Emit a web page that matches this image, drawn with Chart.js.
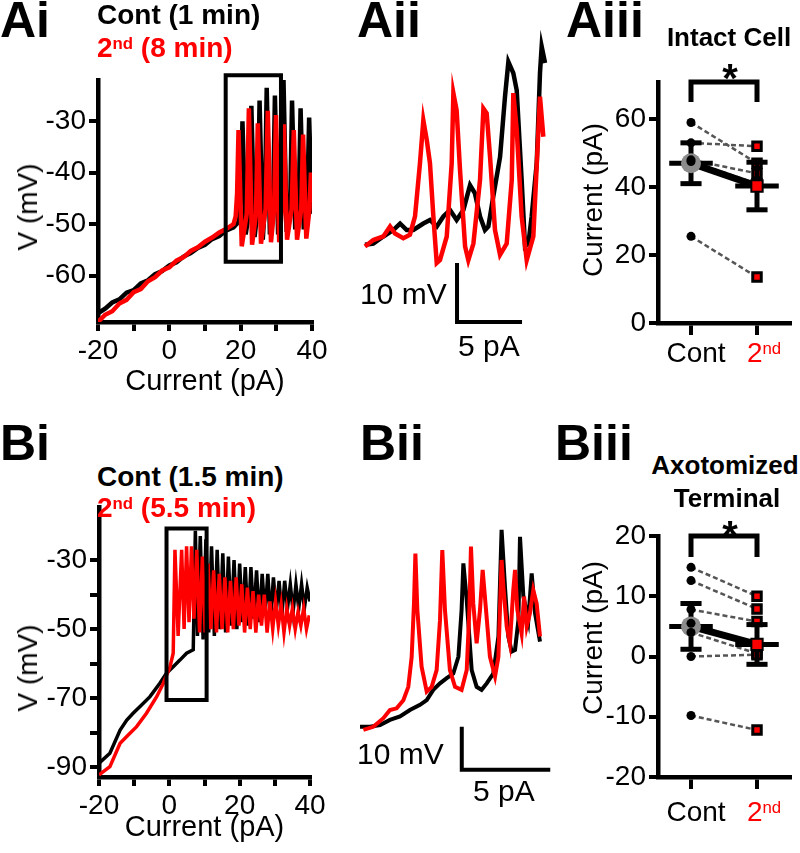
<!DOCTYPE html>
<html>
<head>
<meta charset="utf-8">
<script src="https://cdn.jsdelivr.net/npm/chart.js@4.4.1/dist/chart.umd.min.js"></script>
<style>
body { margin: 0; background: #fff; }
#fig { position: relative; width: 800px; height: 853px; overflow: hidden; font-family: "Liberation Sans", Arial, sans-serif; }
#fig canvas { position: absolute; }
.t { position: absolute; line-height: 1; white-space: nowrap; z-index: 2; color: #000; }
.lab { font-size: 50px; font-weight: bold; }
.leg { font-size: 28px; font-weight: bold; }
.ttl { font-size: 26px; font-weight: bold; transform: translateX(-50%); }
.star { font-size: 40px; font-weight: bold; transform: translateX(-50%); }
.yt { font-size: 28px; transform: translate(-50%, -50%) rotate(-90deg); }
.sb { font-size: 30px; }
.cat { font-size: 28px; transform: translateX(-50%); }
.red { color: #f00; }
sup { font-size: 0.6em; vertical-align: baseline; position: relative; top: -0.5em; }
</style>
</head>
<body>
<div id="fig">
  <canvas id="cAi" width="330" height="330" style="left:0;top:70px"></canvas>
  <canvas id="cAii" width="220" height="320" style="left:340px;top:30px"></canvas>
  <canvas id="cAiii" width="240" height="340" style="left:560px;top:60px"></canvas>
  <canvas id="cBi" width="330" height="358" style="left:0;top:495px"></canvas>
  <canvas id="cBii" width="220" height="320" style="left:340px;top:480px"></canvas>
  <canvas id="cBiii" width="240" height="353" style="left:560px;top:500px"></canvas>

  <div class="t lab" style="left:0;top:-5px">Ai</div>
  <div class="t lab" style="left:357px;top:-5px">Aii</div>
  <div class="t lab" style="left:566px;top:-5px">Aiii</div>
  <div class="t lab" style="left:0;top:418px">Bi</div>
  <div class="t lab" style="left:360px;top:418px">Bii</div>
  <div class="t lab" style="left:555px;top:418px">Biii</div>

  <div class="t leg" style="left:97px;top:1px">Cont (1 min)</div>
  <div class="t leg red" style="left:97px;top:34px">2<sup>nd</sup> (8 min)</div>
  <div class="t leg" style="left:97px;top:463px">Cont (1.5 min)</div>
  <div class="t leg red" style="left:97px;top:494px">2<sup>nd</sup> (5.5 min)</div>

  <div class="t yt" style="left:28px;top:207px">V (mV)</div>
  <div class="t yt" style="left:28px;top:668px">V (mV)</div>
  <div class="t yt" style="left:593px;top:200px">Current (pA)</div>
  <div class="t yt" style="left:593px;top:638px">Current (pA)</div>

  <div class="t sb" style="left:360px;top:279px">10 mV</div>
  <div class="t sb" style="left:458px;top:331px">5 pA</div>
  <div class="t sb" style="left:357px;top:739px">10 mV</div>
  <div class="t sb" style="left:473px;top:776px">5 pA</div>

  <div class="t ttl" style="left:729px;top:24px">Intact Cell</div>
  <div class="t star" style="left:730px;top:58px">*</div>
  <div class="t ttl" style="left:725px;top:452px">Axotomized</div>
  <div class="t ttl" style="left:727px;top:485px">Terminal</div>
  <div class="t star" style="left:730px;top:515px">*</div>

  <div class="t cat" style="left:696px;top:339px">Cont</div>
  <div class="t cat red" style="left:764px;top:339px">2<sup>nd</sup></div>
  <div class="t cat" style="left:696px;top:798px">Cont</div>
  <div class="t cat red" style="left:764px;top:798px">2<sup>nd</sup></div>
</div>

<script>
const RED = '#ff0000';
const FONT = '"Liberation Sans", Arial, sans-serif';

// Ai - intact cell ramp (pA, mV)
const aiBlackX = [-20, -18, -16, -14, -12, -10, -8, -6, -4, -2, 0, 2, 4, 6, 8, 10, 12, 14, 16, 18, 19.5,
  20.1, 20.5, 21.4, 22.5, 23, 23.9, 24.8, 25.3, 26.2, 26.8, 27.3, 28.2, 29.1, 29.6, 30.5, 31.5, 32, 32.9,
  33.9, 34.4, 35.3, 36.3, 36.8, 37.7, 38.7, 39.2, 40];
const aiBlackY = [-67.3, -66.4, -65.2, -64.6, -63.3, -62.8, -61.5, -60.9, -59.7, -59.1, -58, -57.4, -56.3, -55.6, -54.6, -54, -52.9, -52.3, -51.2, -50.6, -49.5,
  -44, -30, -52, -47, -27, -52.5, -47, -26, -53, -46, -23.5, -52, -46, -25, -52, -46, -21.7, -51.5,
  -46, -26, -51, -45, -27.5, -51, -45, -29.3, -48];
const aiRedX = [-20, -18, -16, -14, -12, -10, -8, -6, -4, -2, 0, 2, 4, 6, 8, 10, 12, 14, 16, 18,
  18.6, 19, 19.4, 20.3, 21.7, 22.3, 23.2, 24.3, 24.8, 25.7, 27, 27.6, 28.5, 29.4, 29.9, 30.8, 31.6, 32.1,
  33, 34.3, 34.9, 35.8, 37, 37.5, 38.4, 39.3, 39.7, 40];
const aiRedY = [-69, -67.6, -66.9, -65.4, -64.7, -63.2, -62.6, -61.1, -60.3, -59, -58.4, -57.1, -56.4, -55.2, -54.5, -53.4, -52.6, -51.6, -50.9, -50,
  -48.5, -44, -31.7, -54.3, -48, -27.5, -54, -48, -30.4, -53.8, -47, -28, -53.5, -47, -28.8, -53.5, -47, -30.6,
  -53, -47, -31.7, -53, -47, -32.6, -52.8, -47, -40, -46];
const aiBoxX = [15.8, 31.3];
const aiBoxY = [-57.3, -21.1];
const aiXTicks = [-20, -10, 0, 10, 20, 30, 40];
const aiXLabels = ['-20', '', '0', '', '20', '', '40'];
const aiYTicks = [-60, -50, -40, -30];
const aiYLabels = ['-60', '-50', '-40', '-30'];

// Aii - expanded view of the boxed region
const aiiBlackX = [16.42, 17.06, 17.83, 18.6, 19.12, 19.63, 20.14, 20.91, 21.42, 21.94, 22.45, 22.96, 23.47, 23.99, 24.5, 24.88,
  25.27, 25.65, 25.91, 26.29, 26.81, 27.19, 27.45, 27.83, 28.09, 28.47, 28.73, 28.99, 29.24, 29.63, 29.88, 30.01, 30.27];
const aiiBlackY = [-56.4, -56.2, -55, -53.9, -52.8, -53.9, -53.9, -52.8, -52.2, -53.3, -51.6, -50.5, -52.2, -50.5, -46.3, -47.7,
  -51.6, -53.9, -53.3, -48.2, -41.5, -31.3, -25.4, -27.3, -30.2, -45.4, -56.7, -56.2, -51.6, -42.6, -27.3, -22.8, -25.6];
const aiiRedX = [16.42, 17.06, 17.83, 18.35, 18.73, 19.37, 19.88, 20.27, 20.65, 20.91, 21.17, 21.42, 21.68, 21.94, 22.19, 22.71,
  23.09, 23.22, 23.47, 23.73, 24.12, 24.37, 24.76, 25.27, 25.53, 25.78, 26.04, 26.42, 26.81, 27.32, 27.71, 27.83, 28.09, 28.47,
  28.86, 29.37, 29.76, 29.88, 30.14];
const aiiRedY = [-56.7, -55.6, -55, -53.3, -54.5, -55.3, -54.7, -51.6, -42.6, -35.3, -38.6, -42.6, -51.6, -59.5, -59, -55,
  -42.6, -30.7, -33.6, -43.7, -56.7, -59, -56.2, -45.4, -33.3, -34.1, -41.5, -53.9, -58.1, -56.2, -45.4, -30.7, -36.9, -51.6,
  -59, -55, -36.9, -31.3, -38.1];
const aiiBarX = [23.5, 23.5, 28.5];   // 5 pA
const aiiBarY = [-59.5, -69.5, -69.5]; // 10 mV

// Aiii - intact cell, current at first spike
const catX = [0.5, 1.5];
const aiiiCont = [59, 53, 48, 47.5, 25.5];
const aiiiSec = [47, 52, 44, 41, 13.5];
const aiiiMean = [47, 40.3];
const aiiiSem = [6, 7];
const aiiiBracket = [65, 70.9];
const aiiiYTicks = [0, 20, 40, 60];
const aiiiYLabels = ['0', '20', '40', '60'];

// Bi - axotomized terminal ramp
const biBlackX = [-19.9, -16.9, -14, -12.1, -10.3, -8.4, -5.5, -2.7, -0.8, 1.1, 3, 4.9, 6.8, 7.4,
  8, 8.8, 9.6, 10.4, 11.2, 12, 12.8, 13.6, 14.4, 15.2, 16, 16.8, 17.6, 18.4, 19.2, 20, 20.8, 21.6, 22.4, 23.2,
  24, 24.8, 25.6, 26.4, 27.2, 28, 28.8, 29.6, 30.4, 31.2, 32, 32.8, 33.6, 34.4, 35.2, 36, 36.8, 37.6, 38.4, 39.2, 40];
const biBlackY = [-88.8, -86, -79.3, -76.4, -74.4, -72.5, -69.6, -65.7, -62.8, -60.9, -59, -57, -56, -21.5,
  -52, -23, -53, -24, -51, -26, -52, -27, -50, -28, -51, -29, -49, -30, -50, -31, -48, -32, -49, -32,
  -47, -33, -48, -34, -46, -34, -47, -35, -45, -36, -46, -36, -44, -37, -45, -37, -44, -37, -44, -38, -42];
const biRedX = [-20, -16.9, -14, -11.2, -9.3, -6.5, -3.6, -1.7, 0.2, 1.1,
  1.6, 2.5, 3.5, 4.2, 4.9, 5.6, 6.3, 7, 7.8, 8.6,
  9.4, 10.2, 11, 11.8, 12.6, 13.4, 14.2, 15, 15.8, 16.6, 17.4, 18.2, 19, 19.8, 20.6, 21.4, 22.2, 23, 23.8, 24.6,
  25.4, 26.2, 27, 27.8, 28.6, 29.4, 30.2, 31, 31.8, 32.6, 33.4, 34.2, 35, 35.8, 36.6, 37.4, 38.2, 39, 39.8];
const biRedY = [-92.3, -89.9, -83.1, -80.2, -78.3, -74.4, -69.6, -65.7, -60.9, -57,
  -27, -52, -27, -50, -26, -48, -26, -47, -27, -51,
  -29, -51, -31, -50, -33, -51, -34, -50, -35, -51, -36, -50, -35, -49, -37, -51, -38, -50, -39, -51,
  -40, -49, -40, -51, -42, -50, -42, -49, -43, -51, -44, -49, -44, -50, -45, -49, -44, -50, -46];
const biBoxX = [-0.8, 10.6];
const biBoxY = [-70.6, -20.8];
const biXTicks = [-20, -10, 0, 10, 20, 30, 40];
const biXLabels = ['-20', '', '0', '', '20', '', '40'];
const biYTicks = [-90, -80, -70, -60, -50, -40, -30];
const biYLabels = ['-90', '', '-70', '', '-50', '', '-30'];

// Bii - expanded view
const biiBlackX = [-0.87, -0.31, 0.26, 0.82, 1.39, 1.95, 2.52, 2.9, 3.27, 3.65, 4.03, 4.4, 4.69, 4.87, 4.97, 5.16, 5.44,
  5.72, 6, 6.29, 6.66, 6.95, 7.13, 7.32, 7.51, 7.7, 7.89, 8.08, 8.17, 8.36, 8.64, 8.83, 9.02, 9.3];
const biiBlackY = [-72.4, -72.4, -72, -70.8, -70, -68.5, -67.3, -66.2, -63.8, -62.3, -61.1, -60, -56.1, -45.2, -34.4, -42.9, -59.2,
  -63.1, -63.8, -62.3, -60, -51.4, -26.6, -39.8, -51.4, -54.9, -54.5, -47.6, -28.2, -42.1, -47.6, -36.7, -46, -52.6];
const biiRedX = [-0.68, -0.12, 0.45, 0.82, 1.2, 1.58, 1.86, 2.05, 2.18, 2.26, 2.37, 2.61, 2.9, 3.18, 3.46, 3.65, 3.78, 3.93,
  4.21, 4.5, 4.87, 5.16, 5.31, 5.4, 5.53, 5.72, 5.91, 6.06, 6.25, 6.47, 6.76, 6.95, 7.13, 7.23, 7.42, 7.6, 7.79, 7.89,
  8.02, 8.26, 8.4, 8.55, 8.73, 8.92, 9.11, 9.3];
const biiRedY = [-73.1, -72.4, -70.4, -68.5, -68.1, -66.2, -63.1, -56.1, -43.7, -32.1, -45.2, -58.4, -64.2, -63.1, -59.2, -47.6, -31.3, -45.2,
  -59.2, -63.1, -63.8, -59.2, -45.2, -30.5, -43.7, -53, -45.2, -35.9, -45.2, -56.1, -60.7, -56.1, -33.6, -39.8, -49.1, -53, -40.6, -35.9,
  -45.2, -50.7, -42.1, -49.1, -46, -40.6, -43.7, -51.4];
const biiBarX = [4.88, 4.88, 9.88];
const biiBarY = [-72.4, -82.4, -82.4];

// Biii - axotomized terminal, current at first spike
const biiiCont = [14.8, 12.6, 7.8, 5.5, 4, 0, -9.8];
const biiiSec = [10, 7.9, 5.8, 1.5, 0.5, 0.3, -12.2];
const biiiMean = [5, 2];
const biiiSem = [3.8, 3.3];
const biiiBracket = [16.5, 20];
const biiiYTicks = [-20, -10, 0, 10, 20];
const biiiYLabels = ['-20', '-10', '0', '10', '20'];

Chart.defaults.font.family = FONT;
Chart.defaults.color = '#000';

function pts(xs, ys) {
  return xs.map((x, i) => ({ x: x, y: ys[i] }));
}

function path(data, color, width, order, extra) {
  return Object.assign({
    data: data, showLine: true, borderColor: color, borderWidth: width,
    pointRadius: 0, order: order
  }, extra || {});
}

function boxPath(bx, by) {
  return [{ x: bx[0], y: by[0] }, { x: bx[1], y: by[0] }, { x: bx[1], y: by[1] }, { x: bx[0], y: by[1] }, { x: bx[0], y: by[0] }];
}

function axis(min, max, tickVals, tickLabels, size, horizontal, title, titlePad) {
  const a = {
    type: 'linear', min: min, max: max,
    border: { color: '#000', width: 4.5 },
    grid: { drawOnChartArea: false, color: '#000', lineWidth: 4, tickLength: 9 },
    ticks: { autoSkip: false, maxRotation: 0, padding: 3, font: { size: 28 }, callback: (v, i) => tickLabels[i] },
    afterBuildTicks: s => { s.ticks = tickVals.map(v => ({ value: v })); },
    afterFit: s => {
      if (horizontal) { s.height = size; s.paddingLeft = 0; s.paddingRight = 0; }
      else { s.width = size; s.paddingTop = 0; s.paddingBottom = 0; }
    }
  };
  if (title) a.title = { display: true, text: title, font: { size: 29 }, padding: { top: 0, bottom: titlePad } };
  return a;
}

function hidden(xmin, xmax, ymin, ymax) {
  return { x: { type: 'linear', display: false, min: xmin, max: xmax }, y: { type: 'linear', display: false, min: ymin, max: ymax } };
}

function makeChart(id, datasets, scales, pad) {
  return new Chart(document.getElementById(id), {
    type: 'scatter',
    data: { datasets: datasets },
    options: {
      responsive: false, animation: false, events: [],
      layout: { padding: pad },
      scales: scales,
      plugins: { legend: { display: false }, tooltip: { enabled: false } }
    }
  });
}

// error bar: vertical line, two caps, wide mean line
function errBar(x, m, s) {
  const cap = 0.16, wide = 0.33;
  return [
    [{ x: x, y: m - s }, { x: x, y: m + s }],
    [{ x: x - cap, y: m + s }, { x: x + cap, y: m + s }],
    [{ x: x - cap, y: m - s }, { x: x + cap, y: m - s }],
    [{ x: x - wide, y: m }, { x: x + wide, y: m }]
  ];
}

function pairedSets(cont, sec, mean, sem, bracket) {
  const ds = [];
  cont.forEach((c, i) => {
    ds.push(path([{ x: catX[0], y: c }, { x: catX[1], y: sec[i] }], '#555', 2.5, 10, { borderDash: [5, 3] }));
  });
  ds.push({ data: sec.map(v => ({ x: catX[1], y: v })), pointStyle: 'rect', pointRadius: 6,
    pointBackgroundColor: RED, pointBorderColor: '#000', pointBorderWidth: 3, order: 9 });
  ds.push(path(pts(catX, mean), '#000', 7, 8));
  catX.forEach((x, i) => {
    errBar(x, mean[i], sem[i]).forEach(p => ds.push(path(p, '#000', 5, 7)));
  });
  ds.push({ data: [{ x: catX[0], y: mean[0] }], pointRadius: 10, pointBackgroundColor: '#8c8c8c', pointBorderWidth: 0, order: 6 });
  ds.push({ data: [{ x: catX[1], y: mean[1] }], pointStyle: 'rect', pointRadius: 8,
    pointBackgroundColor: RED, pointBorderColor: '#000', pointBorderWidth: 2, order: 6 });
  ds.push({ data: cont.map(v => ({ x: catX[0], y: v })), pointRadius: 4.5, pointBackgroundColor: '#000', pointBorderWidth: 0, order: 5 });
  ds.push(path([{ x: catX[0], y: bracket[0] }, { x: catX[0], y: bracket[1] }, { x: catX[1], y: bracket[1] }, { x: catX[1], y: bracket[0] }],
    '#000', 5, 1, { clip: false }));
  return ds;
}

function catAxis(size) {
  const a = axis(0, 2, catX, ['', ''], size, true);
  a.grid.tickLength = 12;
  return a;
}

makeChart('cAi', [
  path(boxPath(aiBoxX, aiBoxY), '#000', 4, 1, { clip: false, borderCapStyle: 'square' }),
  path(pts(aiRedX, aiRedY), RED, 4.5, 2),
  path(pts(aiBlackX, aiBlackY), '#000', 4.5, 3)
], {
  x: axis(-20, 40, aiXTicks, aiXLabels, 78, true, 'Current (pA)', 1),
  y: axis(-69, -22, aiYTicks, aiYLabels, 98, false)
}, { left: 0, top: 10, right: 18, bottom: 0 });

makeChart('cAii', [
  path(pts(aiiBarX, aiiBarY), '#000', 4, 1),
  path(pts(aiiRedX, aiiRedY), RED, 4.5, 2),
  path(pts(aiiBlackX, aiiBlackY), '#000', 4.5, 3)
], hidden(14.5, 31.42, -74.24, -20), 0);

makeChart('cAiii', pairedSets(aiiiCont, aiiiSec, aiiiMean, aiiiSem, aiiiBracket), {
  x: catAxis(77),
  y: axis(0, 70.9, aiiiYTicks, aiiiYLabels, 98, false)
}, { left: 0, top: 22, right: 0, bottom: 0 });

makeChart('cBi', [
  path(boxPath(biBoxX, biBoxY), '#000', 4, 1, { clip: false, borderCapStyle: 'square' }),
  path(pts(biRedX, biRedY), RED, 3.5, 2),
  path(pts(biBlackX, biBlackY), '#000', 3.5, 3)
], {
  x: axis(-20, 40, biXTicks, biXLabels, 76, true, 'Current (pA)', 8),
  y: axis(-92.9, -14.6, biYTicks, biYLabels, 99, false)
}, { left: 0, top: 12, right: 20, bottom: 0 });

makeChart('cBii', [
  path(pts(biiBarX, biiBarY), '#000', 4, 1),
  path(pts(biiRedX, biiRedY), RED, 4, 2),
  path(pts(biiBlackX, biiBlackY), '#000', 4, 3)
], hidden(-2, 10.43, -89.42, -15), 0);

makeChart('cBiii', pairedSets(biiiCont, biiiSec, biiiMean, biiiSem, biiiBracket), {
  x: catAxis(76),
  y: axis(-20, 20, biiiYTicks, biiiYLabels, 98, false)
}, { left: 0, top: 36, right: 0, bottom: 0 });
</script>
</body>
</html>
